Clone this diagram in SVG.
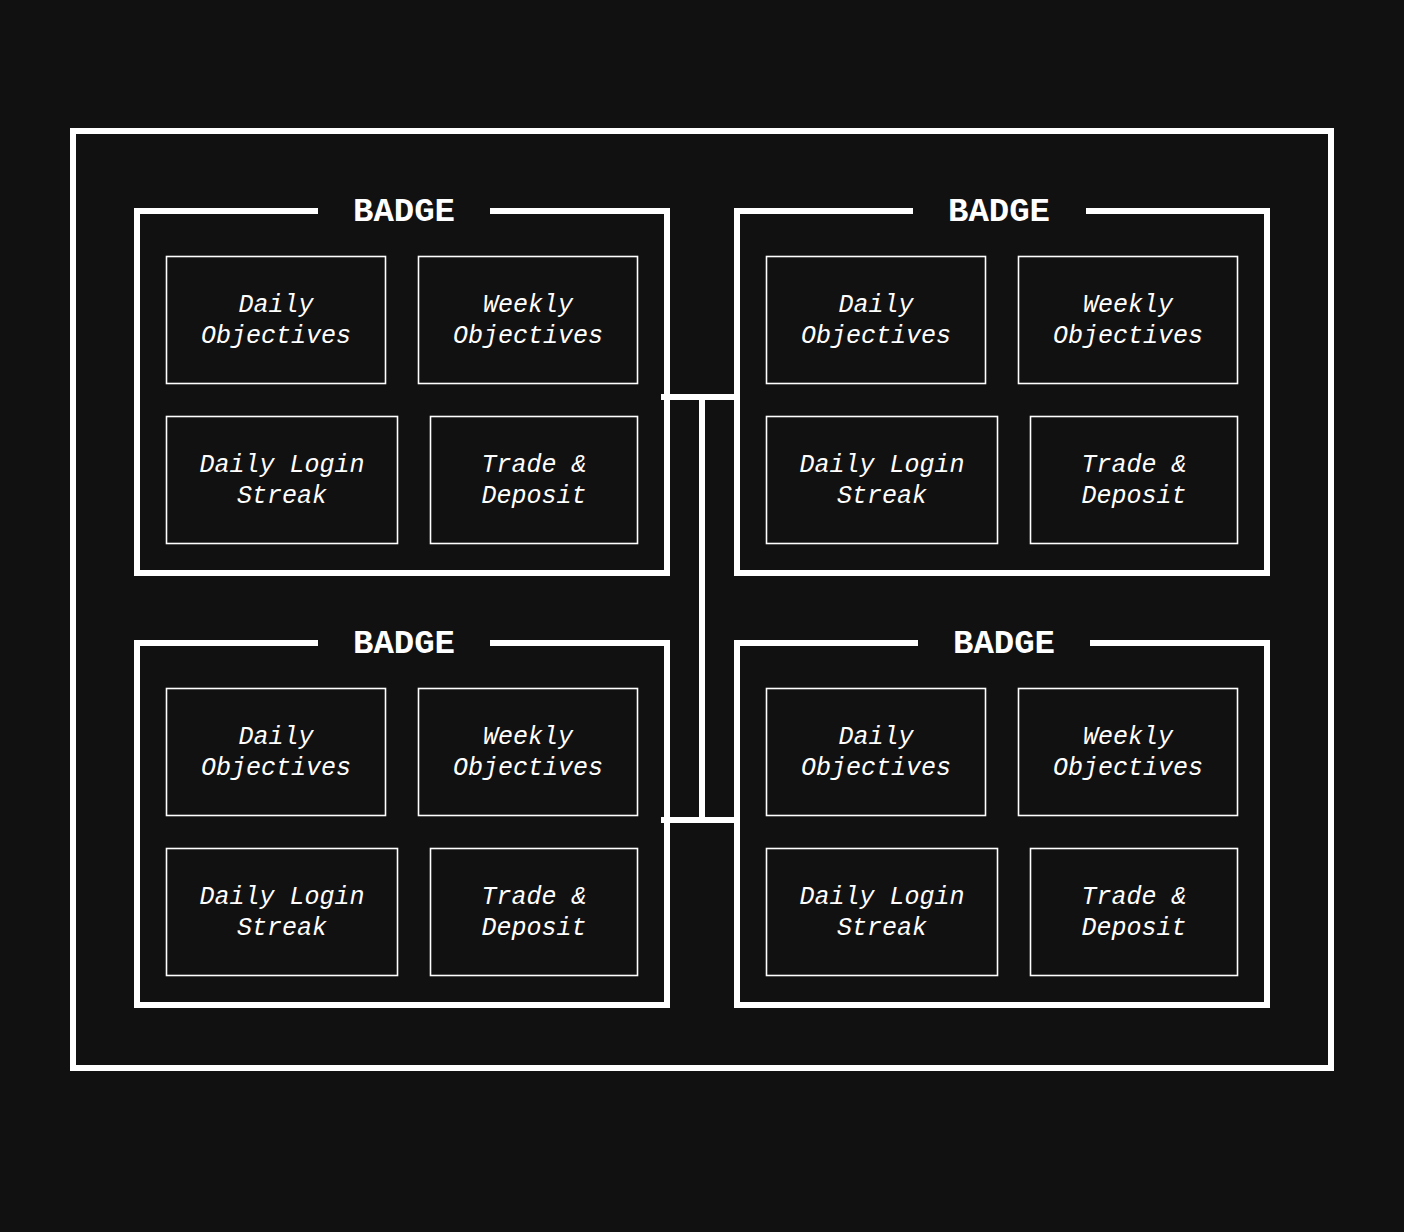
<svg xmlns="http://www.w3.org/2000/svg" width="1404" height="1232" viewBox="0 0 1404 1232">
<style>
.bg{fill:#111111}
.frame{fill:none;stroke:#ffffff;stroke-width:6;stroke-linejoin:miter;stroke-linecap:butt}
.box{fill:none;stroke:#ffffff;stroke-width:1.6}
.title{font-family:"Liberation Mono","DejaVu Sans Mono",monospace;font-weight:bold;font-size:34px;fill:#ffffff;text-anchor:middle}
.lbl{font-family:"Liberation Mono","DejaVu Sans Mono",monospace;font-style:italic;font-size:25px;fill:#ffffff;text-anchor:middle}
.conn{fill:none;stroke:#ffffff;stroke-width:6;stroke-linecap:butt}
</style>
<rect class="bg" x="0" y="0" width="1404" height="1232"/>
<rect id="outer" class="frame" x="73" y="131" width="1258" height="937"/>

<g id="connectors">
<line class="conn" x1="661" y1="397" x2="737" y2="397"/>
<line class="conn" x1="661" y1="820" x2="737" y2="820"/>
<line class="conn" x1="702" y1="397" x2="702" y2="820"/>
</g>

<g id="badge-tl">
<path class="frame" d="M318 211 H137 V573 H667 V211 H490"/>
<text class="title" x="404" y="221">BADGE</text>
<g id="tl-daily"><rect class="box" x="166.5" y="256.5" width="219" height="127"/><text class="lbl" x="276" y="312">Daily</text><text class="lbl" x="276" y="343">Objectives</text></g>
<g id="tl-weekly"><rect class="box" x="418.5" y="256.5" width="219" height="127"/><text class="lbl" x="528" y="312">Weekly</text><text class="lbl" x="528" y="343">Objectives</text></g>
<g id="tl-login"><rect class="box" x="166.5" y="416.5" width="231" height="127"/><text class="lbl" x="282" y="472">Daily Login</text><text class="lbl" x="282" y="503">Streak</text></g>
<g id="tl-trade"><rect class="box" x="430.5" y="416.5" width="207" height="127"/><text class="lbl" x="534" y="472">Trade &amp;</text><text class="lbl" x="534" y="503">Deposit</text></g>
</g>

<g id="badge-tr">
<path class="frame" d="M913 211 H737 V573 H1267 V211 H1086"/>
<text class="title" x="999" y="221">BADGE</text>
<g id="tr-daily"><rect class="box" x="766.5" y="256.5" width="219" height="127"/><text class="lbl" x="876" y="312">Daily</text><text class="lbl" x="876" y="343">Objectives</text></g>
<g id="tr-weekly"><rect class="box" x="1018.5" y="256.5" width="219" height="127"/><text class="lbl" x="1128" y="312">Weekly</text><text class="lbl" x="1128" y="343">Objectives</text></g>
<g id="tr-login"><rect class="box" x="766.5" y="416.5" width="231" height="127"/><text class="lbl" x="882" y="472">Daily Login</text><text class="lbl" x="882" y="503">Streak</text></g>
<g id="tr-trade"><rect class="box" x="1030.5" y="416.5" width="207" height="127"/><text class="lbl" x="1134" y="472">Trade &amp;</text><text class="lbl" x="1134" y="503">Deposit</text></g>
</g>

<g id="badge-bl">
<path class="frame" d="M318 643 H137 V1005 H667 V643 H490"/>
<text class="title" x="404" y="653">BADGE</text>
<g id="bl-daily"><rect class="box" x="166.5" y="688.5" width="219" height="127"/><text class="lbl" x="276" y="744">Daily</text><text class="lbl" x="276" y="775">Objectives</text></g>
<g id="bl-weekly"><rect class="box" x="418.5" y="688.5" width="219" height="127"/><text class="lbl" x="528" y="744">Weekly</text><text class="lbl" x="528" y="775">Objectives</text></g>
<g id="bl-login"><rect class="box" x="166.5" y="848.5" width="231" height="127"/><text class="lbl" x="282" y="904">Daily Login</text><text class="lbl" x="282" y="935">Streak</text></g>
<g id="bl-trade"><rect class="box" x="430.5" y="848.5" width="207" height="127"/><text class="lbl" x="534" y="904">Trade &amp;</text><text class="lbl" x="534" y="935">Deposit</text></g>
</g>

<g id="badge-br">
<path class="frame" d="M918 643 H737 V1005 H1267 V643 H1090"/>
<text class="title" x="1004" y="653">BADGE</text>
<g id="br-daily"><rect class="box" x="766.5" y="688.5" width="219" height="127"/><text class="lbl" x="876" y="744">Daily</text><text class="lbl" x="876" y="775">Objectives</text></g>
<g id="br-weekly"><rect class="box" x="1018.5" y="688.5" width="219" height="127"/><text class="lbl" x="1128" y="744">Weekly</text><text class="lbl" x="1128" y="775">Objectives</text></g>
<g id="br-login"><rect class="box" x="766.5" y="848.5" width="231" height="127"/><text class="lbl" x="882" y="904">Daily Login</text><text class="lbl" x="882" y="935">Streak</text></g>
<g id="br-trade"><rect class="box" x="1030.5" y="848.5" width="207" height="127"/><text class="lbl" x="1134" y="904">Trade &amp;</text><text class="lbl" x="1134" y="935">Deposit</text></g>
</g>
</svg>
